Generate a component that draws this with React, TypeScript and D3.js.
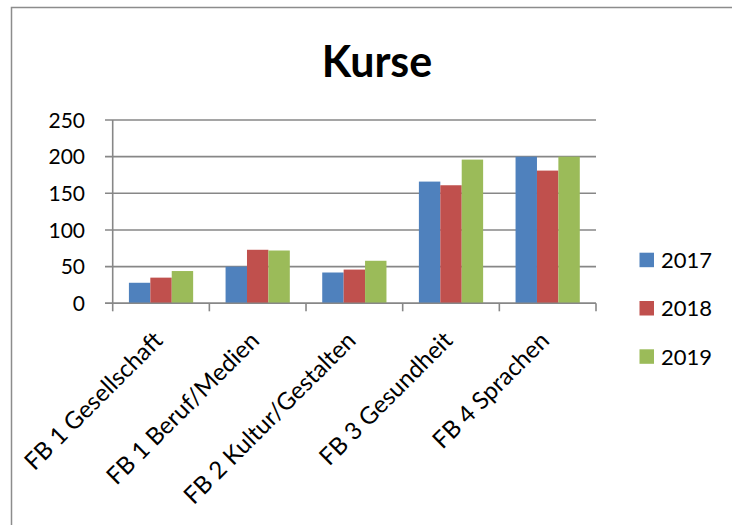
import React from "react";
import * as d3 from "d3";

const categories = [
  "FB 1 Gesellschaft",
  "FB 1 Beruf/Medien",
  "FB 2 Kultur/Gestalten",
  "FB 3 Gesundheit",
  "FB 4 Sprachen",
];
const seriesNames = ["2017", "2018", "2019"];
const values2017 = [28, 50, 42, 166, 200];
const values2018 = [35, 73, 46, 161, 181];
const values2019 = [44, 72, 58, 196, 200];
const yTicks = [0, 50, 100, 150, 200, 250];
const colors = ["#4F81BD", "#C0504D", "#9BBB59"];

const W = 732;
const H = 525;
const FONT = "Lato, 'Open Sans', sans-serif";

export default function App() {
  const series = [values2017, values2018, values2019];
  const left = 112.7;
  const right = 596;
  const top = 120;
  const bottom = 303.3;

  const x = d3.scaleBand<string>().domain(categories).range([left, right]).paddingInner(0).paddingOuter(0);
  const inner = d3
    .scaleBand<string>()
    .domain(seriesNames)
    .range([0, x.bandwidth()])
    .paddingOuter(0.5 * (32.4 / 21.4))
    .paddingInner(0);
  const y = d3.scaleLinear().domain([0, 250]).range([bottom, top]);

  const gridColor = "#878787";

  return (
    <svg
      width={W}
      height={H}
      style={{ position: "absolute", left: 0, top: 0, display: "block", background: "#fff" }}
    >
      <rect x={0} y={0} width={W} height={H} fill="#fff" />
      {/* frame */}
      <path d={`M11.5,${H + 5} L11.5,7.5 L${W + 5},7.5`} fill="none" stroke="#8c8c8c" strokeWidth={1.5} />

      {/* title */}
      <text
        x={377}
        y={77}
        textAnchor="middle"
        fontFamily={FONT}
        fontWeight="bold"
        fontSize={43}
        fill="#000"
      >
        Kurse
      </text>

      {/* gridlines + y ticks */}
      {yTicks.map((t) => (
        <g key={t}>
          <line x1={105} x2={right} y1={y(t)} y2={y(t)} stroke={gridColor} strokeWidth={1.6} />
          <text
            x={85}
            y={y(t)}
            dy="0.36em"
            textAnchor="end"
            fontFamily={FONT}
            fontSize={21}
            fill="#000"
          >
            {t}
          </text>
        </g>
      ))}

      {/* bars */}
      {categories.map((c, ci) => (
        <g key={c}>
          {seriesNames.map((s, si) => {
            const v = series[si][ci];
            return (
              <rect
                key={s}
                x={(x(c) as number) + (inner(s) as number)}
                y={y(v)}
                width={inner.bandwidth()}
                height={y(0) - y(v)}
                fill={colors[si]}
              />
            );
          })}
        </g>
      ))}

      {/* axes */}
      <line x1={left} x2={left} y1={top} y2={bottom} stroke={gridColor} strokeWidth={1.6} />
      <line x1={105} x2={right} y1={bottom} y2={bottom} stroke={gridColor} strokeWidth={1.6} />
      {categories.concat(["end"]).map((c, i) => {
        const xx = left + i * x.step();
        return <line key={c} x1={xx} x2={xx} y1={bottom} y2={bottom + 8} stroke={gridColor} strokeWidth={1.6} />;
      })}

      {/* category labels */}
      {categories.map((c) => {
        const cx = (x(c) as number) + x.bandwidth() / 2 + 3;
        const cy = 342;
        return (
          <text
            key={c}
            transform={`translate(${cx},${cy}) rotate(-45)`}
            textAnchor="end"
            fontFamily={FONT}
            fontSize={24}
            fill="#000"
          >
            {c}
          </text>
        );
      })}

      {/* legend */}
      {seriesNames.map((s, i) => {
        const ly = 252.7 + i * 48.3;
        return (
          <g key={s}>
            <rect x={639.5} y={ly} width={14.5} height={14.5} fill={colors[i]} />
            <text x={661} y={ly + 7.3} dy="0.36em" fontFamily={FONT} fontSize={22} fill="#000">
              {s}
            </text>
          </g>
        );
      })}
    </svg>
  );
}
